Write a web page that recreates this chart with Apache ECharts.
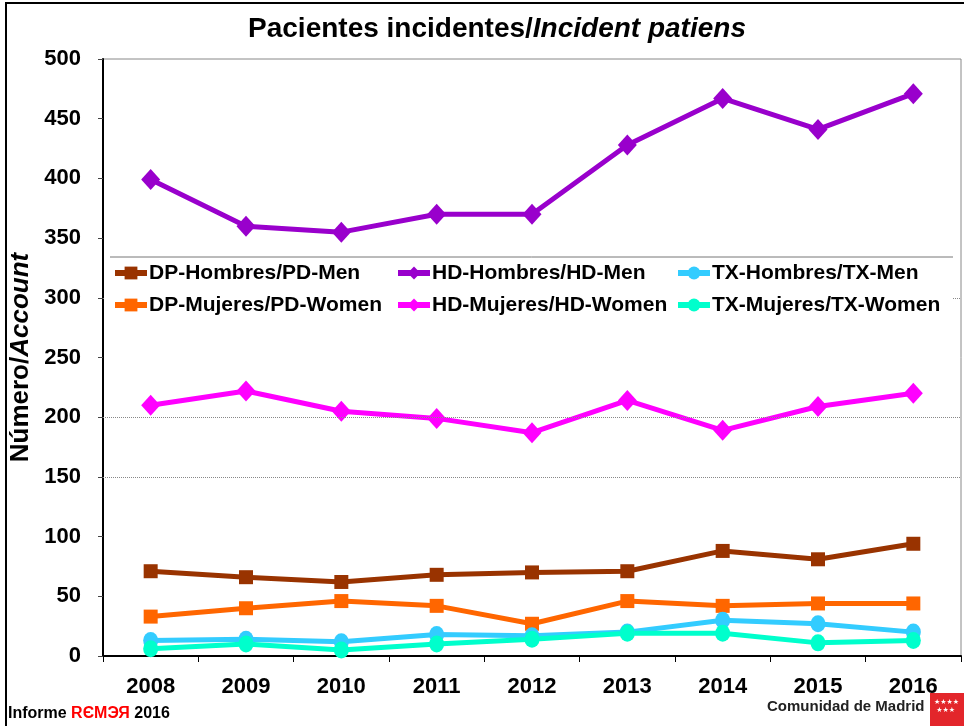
<!DOCTYPE html>
<html>
<head>
<meta charset="utf-8">
<script src="https://cdn.jsdelivr.net/npm/echarts@6/dist/echarts.min.js"></script>
<style>
  html, body { margin: 0; padding: 0; background: #fff; }
  #chart { width: 964px; height: 726px; }
</style>
</head>
<body>
<div id="chart"></div>
<script>
var years = ['2008', '2009', '2010', '2011', '2012', '2013', '2014', '2015', '2016'];

var dpMen = [71, 66, 62, 68, 70, 71, 88, 81, 94];
var dpWomen = [33, 40, 46, 42, 27, 46, 42, 44, 44];
var hdMen = [399, 360, 355, 370, 370, 428, 467, 441, 471];
var hdWomen = [210, 222, 205, 199, 187, 214, 189, 209, 220];
var txMen = [13, 14, 12, 18, 17, 20, 30, 27, 20];
var txWomen = [6, 10, 5, 10, 14, 19, 19, 11, 13];

var gridValues = [300, 200, 150];

var font = 'Liberation Sans, Arial, sans-serif';

function line(name, data, color, symbol, size) {
    return {
        name: name,
        type: 'line',
        data: data,
        symbol: symbol,
        symbolSize: size,
        showSymbol: true,
        lineStyle: { color: color, width: 5 },
        itemStyle: { color: color },
        z: 3
    };
}

var series = [
    line('DP-Hombres/PD-Men', dpMen, '#993300', 'rect', 14),
    line('DP-Mujeres/PD-Women', dpWomen, '#FF6600', 'rect', 14),
    line('HD-Hombres/HD-Men', hdMen, '#9900CC', 'diamond', [19, 21]),
    line('HD-Mujeres/HD-Women', hdWomen, '#FF00FF', 'diamond', [19, 21]),
    line('TX-Hombres/TX-Men', txMen, '#33CCFF', 'circle', [15, 17]),
    line('TX-Mujeres/TX-Women', txWomen, '#00FFCC', 'circle', [15, 17])
];

// only a few horizontal guide lines are drawn in the original
series[0].markLine = {
    silent: true,
    symbol: 'none',
    label: { show: false },
    lineStyle: { color: '#888', type: 'dotted', width: 1 },
    data: gridValues.map(function (v) { return { yAxis: v }; })
};

function legendCol(left, names) {
    return {
        orient: 'vertical',
        left: left,
        top: 261,
        z: 20,
        itemWidth: 32,
        itemHeight: 16,
        itemGap: 8,
        padding: 0,
        lineStyle: { width: 6 },
        data: names,
        textStyle: { fontFamily: font, fontWeight: 'bold', fontSize: 21, color: '#000', lineHeight: 24, padding: [0, 0, 0, -3] }
    };
}

var option = {
    backgroundColor: '#fff',
    animation: false,
    title: {
        text: '{a|Pacientes incidentes/}{b|Incident patiens}',
        left: 492,
        textAlign: 'center',
        top: 10,
        textStyle: {
            rich: {
                a: { fontFamily: font, fontWeight: 'bold', fontSize: 28, color: '#000' },
                b: { fontFamily: font, fontWeight: 'bold', fontStyle: 'italic', fontSize: 28, color: '#000' }
            }
        }
    },
    legend: [
        legendCol(112, ['DP-Hombres/PD-Men', 'DP-Mujeres/PD-Women']),
        legendCol(395, ['HD-Hombres/HD-Men', 'HD-Mujeres/HD-Women']),
        legendCol(675, ['TX-Hombres/TX-Men', 'TX-Mujeres/TX-Women'])
    ],
    grid: {
        left: 103,
        right: 3,
        top: 59,
        bottom: 70,
        outerBoundsMode: 'none',
        show: true,
        borderColor: '#888',
        borderWidth: 1
    },
    xAxis: {
        type: 'category',
        data: years,
        boundaryGap: true,
        axisLine: { lineStyle: { color: '#000', width: 2 } },
        axisTick: { show: true, length: 6, lineStyle: { color: '#000' } },
        axisLabel: { fontFamily: font, fontWeight: 'bold', fontSize: 22, color: '#000', margin: 20 },
        splitLine: { show: false }
    },
    yAxis: {
        type: 'value',
        min: 0,
        max: 500,
        interval: 50,
        name: '{a|Número/}{b|Account}',
        nameLocation: 'middle',
        nameRotate: 90,
        nameGap: 64,
        nameTextStyle: {
            rich: {
                a: { fontFamily: font, fontWeight: 'bold', fontSize: 26, color: '#000' },
                b: { fontFamily: font, fontWeight: 'bold', fontStyle: 'italic', fontSize: 26, color: '#000' }
            }
        },
        axisLine: { show: true, lineStyle: { color: '#000', width: 2 } },
        axisTick: { show: true, length: 5, lineStyle: { color: '#444' } },
        axisLabel: { fontFamily: font, fontWeight: 'bold', fontSize: 22, color: '#000', margin: 22 },
        splitLine: { show: false }
    },
    graphic: [
        { type: 'rect', shape: { x: 6, y: 3, width: 980, height: 760 }, style: { fill: 'none', stroke: '#000', lineWidth: 2 }, z: 0 },
        { type: 'rect', shape: { x: 105, y: 258, width: 848, height: 62 }, style: { fill: '#fff' }, z: 10 },
        { type: 'line', shape: { x1: 110, y1: 257, x2: 953, y2: 257 }, style: { stroke: '#777', lineWidth: 1 }, z: 11 },
        {
            type: 'text', left: 8, top: 706, z: 20,
            style: {
                text: '{a|Informe }{r|RЄMЭЯ}{a| 2016}',
                rich: {
                    a: { fontFamily: font, fontWeight: 'bold', fontSize: 16, fill: '#000' },
                    r: { fontFamily: font, fontWeight: 'bold', fontSize: 16, fill: '#FF0000' }
                }
            }
        },
        {
            type: 'text', left: 767, top: 699, z: 20,
            style: { text: 'Comunidad de Madrid', fontFamily: font, fontWeight: 'bold', fontSize: 15, fill: '#222' }
        },
        { type: 'rect', shape: { x: 930, y: 693, width: 34, height: 33 }, style: { fill: '#E3262B' }, z: 20 },
        {
            type: 'text', left: 934, top: 698, z: 21,
            style: { text: '★★★★\n ★★★', fontFamily: 'DejaVu Sans', fontSize: 7, lineHeight: 8, fill: '#fff' }
        }
    ],
    series: series
};

var chart = echarts.init(document.getElementById('chart'));
chart.setOption(option);
</script>
</body>
</html>
